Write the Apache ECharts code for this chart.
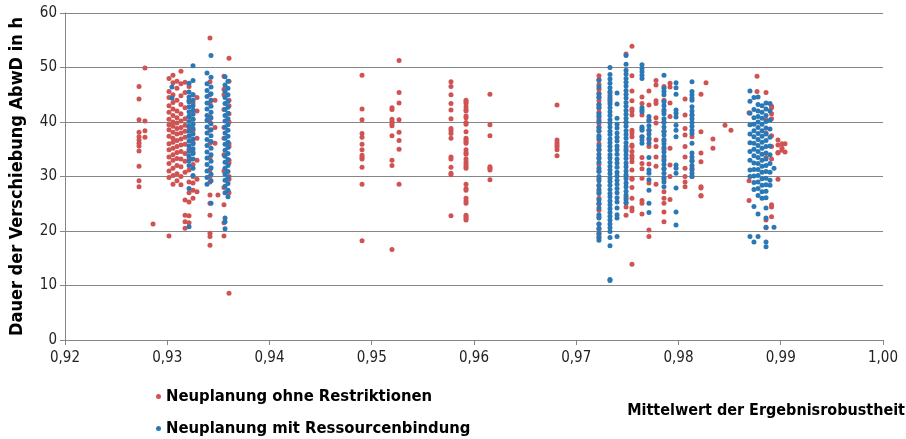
<!DOCTYPE html>
<html><head><meta charset="utf-8">
<script src="https://cdn.jsdelivr.net/npm/echarts@6/dist/echarts.min.js"></script>
<style>html,body{margin:0;padding:0;background:#fff}#c{width:906px;height:439px}</style>
</head><body><div id="c"></div>
<script>
const seriesNames = ['Neuplanung ohne Restriktionen', 'Neuplanung mit Ressourcenbindung'];
const xAxisTitle = 'Mittelwert der Ergebnisrobustheit';
const yAxisTitle = 'Dauer der Verschiebung AbwD in h';
const xTicks = [0.92, 0.93, 0.94, 0.95, 0.96, 0.97, 0.98, 0.99, 1.00];
const yTicks = [0, 10, 20, 30, 40, 50, 60];

// Red series: columns of [x, [y values]]
const redA = [
  [0.92724, [46.5, 44.2, 40.4, 38.1, 37.3, 36.7, 36.1, 35.6, 34.7, 31.9, 29.2, 28.1]],
  [0.92782, [49.9, 40.2, 38.4, 37.2]],
  [0.92861, [21.3]]
];
const redB = [
  [0.93017, [48.0, 45.6, 44.5, 43.0, 41.8, 40.5, 39.5, 38.6, 37.4, 36.0, 34.9, 33.6, 32.4, 31.0, 29.8, 19.1]],
  [0.93056, [48.6, 47.2, 45.0, 43.6, 42.4, 41.2, 40.0, 39.2, 38.1, 37.0, 36.3, 35.2, 34.0, 33.0, 31.5, 30.2, 28.6]],
  [0.93095, [47.5, 46.2, 44.0, 42.0, 40.8, 39.8, 38.8, 37.8, 36.6, 35.5, 34.4, 33.3, 32.0, 30.5, 29.2]],
  [0.93134, [49.3, 47.0, 44.8, 43.2, 41.5, 40.2, 39.0, 38.0, 36.9, 35.8, 34.6, 33.2, 31.8, 30.0, 28.5]],
  [0.93174, [47.3, 45.4, 42.6, 40.6, 39.4, 38.3, 37.2, 35.9, 34.2, 32.8, 30.8, 25.7, 22.9, 21.7, 20.5]],
  [0.93213, [46.5, 44.0, 41.0, 39.0, 37.5, 35.0, 33.5, 31.2, 29.0, 27.0, 25.3, 22.8, 21.5]],
  [0.93252, [45.0, 43.5, 40.5, 38.5, 36.2, 34.5, 32.2, 30.0, 28.8, 27.5, 26.0]],
  [0.93291, [44.5, 42.0, 37.0, 33.0, 29.5, 27.2]],
  [0.93418, [55.4, 47.4, 45.0, 43.4, 41.0, 40.0, 38.5, 36.1, 33.5, 31.2, 30.0, 29.0, 26.6, 25.1, 22.9, 19.6, 19.0, 17.4]],
  [0.93467, [44.0, 39.0, 36.1]],
  [0.93496, [26.6]],
  [0.93555, [48.4, 46.0, 45.0, 42.3, 39.0, 37.0, 34.0, 31.0, 28.0, 24.8, 21.5, 19.1]],
  [0.93604, [51.7, 47.5, 44.0, 43.0, 41.5, 40.0, 36.0, 35.5, 33.0, 32.5, 30.0, 29.5, 27.0, 8.6]]
];
const redC = [
  [0.94905, [48.6, 42.4, 40.4, 37.9, 37.2, 35.9, 34.9, 33.9, 33.5, 33.2, 31.7, 28.6, 18.2]],
  [0.95198, [42.6, 42.3, 40.5, 40.1, 39.7, 39.3, 37.5, 33.0, 32.0, 16.6]],
  [0.95267, [51.3, 45.4, 43.5, 40.4, 38.1, 36.6, 35.0, 28.6]],
  [0.95775, [47.4, 46.5, 45.0, 43.4, 42.2, 40.6, 38.8, 38.4, 37.9, 37.0, 33.6, 33.2, 31.7, 30.6, 30.3, 22.8]],
  [0.95922, [44.0, 43.7, 43.4, 42.8, 42.3, 42.0, 41.1, 40.8, 39.9, 39.6, 38.2, 37.0, 36.7, 36.4, 36.1, 34.9, 34.4, 34.1, 33.2, 32.7, 32.3, 31.9, 31.5, 28.6, 27.8, 27.5, 26.0, 25.5, 25.1, 22.9, 22.6, 22.3, 22.0]],
  [0.96156, [45.1, 39.5, 37.5, 31.8, 31.5, 31.2, 29.4]],
  [0.96812, [43.1, 36.7, 36.2, 35.8, 35.4, 34.9, 33.8]]
];
const redD = [
  [0.97222, [48.5, 47.8, 46.9, 46.0, 45.3, 44.6, 43.9, 43.2, 42.5, 41.8, 41.1, 40.4, 39.7, 39.0, 38.3, 37.2, 36.0, 34.8, 33.5, 32.2, 31.0, 29.6, 28.4, 27.2, 26.0, 24.9, 23.8, 22.6, 21.3, 20.3, 19.4, 18.9]],
  [0.97330, [45.3, 44.4, 43.7]],
  [0.97487, [52.5, 40.0, 35.0, 30.0, 26.2, 25.2, 24.4, 22.9]],
  [0.97545, [53.9, 48.5, 45.7, 43.9, 42.4, 42.0, 41.3, 38.5, 38.0, 37.3, 35.8, 35.5, 34.6, 33.8, 33.4, 32.7, 31.2, 29.7, 29.5, 28.0, 26.0, 24.2, 23.7, 13.9]],
  [0.97643, [44.6, 43.4, 41.3, 37.3, 33.5, 32.4, 31.4, 29.7, 25.6, 25.1, 23.1]],
  [0.97711, [45.7, 43.1, 40.4, 38.5, 36.7, 35.5, 32.3, 28.8, 20.2, 19.0]],
  [0.97780, [47.6, 46.8, 43.9, 43.4, 40.8, 39.8, 36.7, 35.5, 33.6, 31.9, 28.6]],
  [0.97858, [46.5, 44.0, 42.0, 40.0, 38.2, 36.5, 35.0, 33.2, 31.4, 29.5, 27.2, 26.0, 25.1, 23.5, 21.7]],
  [0.97917, [47.1, 46.4, 43.5, 41.0, 35.2, 32.1, 30.0, 25.8]],
  [0.98064, [44.2, 41.3, 38.8, 37.6, 35.5, 33.6, 31.5, 30.0, 29.0, 28.1]],
  [0.98132, [41.3, 37.3, 33.0, 31.5, 30.0]],
  [0.98220, [45.1, 38.2, 34.3, 32.7, 28.1, 27.9, 26.5, 26.4]],
  [0.98269, [47.2]],
  [0.98337, [36.9, 35.2]],
  [0.98455, [39.4]],
  [0.98513, [38.5]]
];
const redE = [
  [0.98690, [41.7, 29.2, 25.6]],
  [0.98768, [48.4, 45.6]],
  [0.98856, [45.4, 40.4, 38.0, 33.5, 22.0, 20.6]],
  [0.98910, [42.9, 42.6, 41.5, 40.6, 37.5, 35.5, 33.2, 24.8, 24.4, 22.6]],
  [0.98973, [36.7, 35.8, 34.4, 34.3, 29.5]],
  [0.99012, [35.2, 36.0, 34.8]],
  [0.99042, [36.0, 34.5]]
];

// Blue series
const blueA = [
  [0.93046, [46.4, 44.4]],
  [0.93213, [47.1, 45.5, 44.6, 43.7, 42.8, 41.9, 41.0, 40.1, 39.2, 38.3, 37.4, 36.5, 35.6, 34.7, 33.8, 32.9, 32.0, 27.8, 20.8]],
  [0.93252, [50.3, 47.6, 45.0, 44.0, 43.0, 42.2, 41.4, 40.5, 39.6, 38.8, 37.8, 36.9, 36.0, 35.1, 34.2, 33.2, 31.5, 30.2]],
  [0.93389, [49.0, 47.0, 45.8, 44.7, 43.5, 42.4, 41.2, 40.3, 39.1, 38.0, 36.8, 35.7, 34.5, 33.4, 32.2, 31.0, 29.8, 28.6]],
  [0.93428, [52.2, 48.2, 46.4, 45.2, 44.0, 42.9, 41.8, 40.8, 39.7, 38.6, 37.5, 36.4, 35.2, 34.0, 32.8, 31.6, 30.4, 29.2, 25.1]],
  [0.93565, [48.3, 46.8, 45.6, 44.5, 43.4, 42.3, 41.2, 40.2, 39.1, 38.0, 37.0, 35.9, 34.8, 33.7, 32.6, 31.5, 30.4, 29.3, 28.2, 27.0, 22.4, 21.7, 20.4]],
  [0.93594, [47.5, 46.2, 45.0, 43.8, 42.7, 41.6, 40.6, 39.5, 38.5, 37.4, 36.3, 35.3, 34.2, 33.1, 32.0, 30.9, 29.8, 28.7, 27.5, 26.3]]
];
const blueB = [
  [0.97222, [47.6, 46.4, 45.1, 44.5, 43.2, 42.7, 41.5, 40.9, 40.1, 39.0, 38.4, 37.5, 36.8, 35.6, 35.0, 34.1, 33.3, 32.6, 31.5, 30.9, 30.0, 29.2, 28.3, 27.6, 26.9, 25.7, 25.1, 24.2, 23.0, 22.4, 21.3, 20.5, 19.6, 18.8, 18.3]],
  [0.97330, [50.0, 48.7, 47.9, 47.1, 46.3, 45.6, 44.8, 44.1, 43.3, 42.6, 41.9, 41.2, 40.4, 39.8, 39.1, 38.3, 37.7, 36.9, 36.2, 35.5, 34.8, 34.0, 33.4, 32.6, 31.9, 31.2, 30.5, 29.7, 29.1, 28.4, 27.6, 26.9, 26.3, 25.5, 24.8, 24.1, 23.4, 22.7, 22.0, 21.3, 20.6, 19.9, 18.8, 17.3, 11.1, 10.9]],
  [0.97399, [45.3, 43.3, 40.7, 39.6, 38.9, 38.0, 37.2, 36.5, 35.6, 34.9, 34.1, 33.2, 32.5, 31.7, 30.8, 30.1, 29.3, 28.6, 27.8, 27.0, 26.1, 25.3, 24.2, 23.0, 22.4, 19.0]],
  [0.97487, [52.2, 50.6, 49.5, 48.8, 48.0, 47.3, 46.6, 45.8, 45.1, 44.4, 43.6, 42.9, 42.1, 41.4, 40.7, 39.9, 39.2, 38.4, 37.7, 37.0, 36.2, 35.5, 34.7, 34.0, 33.3, 32.5, 31.8, 31.0, 30.3, 29.6, 28.8, 28.1, 27.3, 26.6, 25.8, 25.2]],
  [0.97643, [50.5, 49.8, 49.2, 48.6, 48.0, 42.6, 42.2, 41.9, 39.1, 38.8, 38.5, 37.3, 36.7, 36.1]],
  [0.97711, [41.0, 40.2, 39.3, 38.5, 37.8, 37.0, 36.1, 33.5, 31.2, 30.6, 29.4, 27.5, 25.1, 23.4]],
  [0.97858, [48.6, 46.2, 45.6, 45.0, 43.7, 43.0, 42.2, 41.5, 40.6, 39.9, 39.1, 38.3, 37.6, 36.8, 36.0, 35.3, 34.5, 33.7, 32.9, 32.2, 31.4, 30.6, 29.8, 29.0, 28.1]],
  [0.97976, [47.2, 46.3, 45.1, 42.2, 41.6, 40.9, 39.4, 38.5, 37.3, 32.1, 31.5, 30.6, 27.9, 23.5, 21.1]],
  [0.98132, [47.4, 45.6, 45.0, 44.4, 44.0, 42.8, 42.0, 41.3, 40.6, 39.9, 39.2, 38.5, 37.9, 36.1, 34.3, 33.6, 32.8, 32.0, 31.2, 30.6, 30.0]]
];
const blueC = [
  [0.98699, [45.7, 43.8, 41.6, 39.5, 37.8, 36.2, 34.6, 33.0, 31.2, 30.0, 19.0]],
  [0.98738, [44.5, 42.3, 40.8, 39.6, 38.4, 37.3, 36.1, 35.0, 33.8, 32.5, 31.3, 30.1, 28.9, 27.6, 24.5, 18.0]],
  [0.98778, [44.6, 43.2, 42.0, 41.0, 40.0, 39.0, 37.9, 36.8, 35.7, 34.6, 33.5, 32.4, 31.3, 30.2, 29.0, 27.8, 26.5, 23.1, 19.0]],
  [0.98817, [43.0, 41.8, 40.7, 39.6, 38.4, 37.4, 36.3, 35.2, 34.1, 33.0, 31.9, 30.8, 29.6, 28.4, 27.2, 26.0]],
  [0.98856, [43.5, 42.4, 41.2, 40.1, 38.9, 37.8, 36.6, 35.5, 34.3, 33.2, 32.0, 30.9, 29.7, 28.5, 27.3, 26.1, 24.2, 22.4, 20.7, 18.0, 17.1]],
  [0.98895, [43.4, 42.0, 40.3, 38.7, 37.2, 35.6, 34.0, 32.4, 30.8, 29.3, 28.4]],
  [0.98934, [31.5, 20.7]]
];

function expand(groups) {
  const out = [];
  groups.forEach(cols => cols.forEach(([x, ys]) => ys.forEach(y => out.push([x, y]))));
  return out;
}
const redData = expand([redA, redB, redC, redD, redE]);
const blueData = expand([blueA, blueB, blueC]);

const FONT = "'Liberation Sans Narrow', 'DejaVu Sans Condensed', sans-serif";
const RED = '#D05353';
const BLUE = '#2A79B6';
const AXIS = '#868686';

const chart = echarts.init(document.getElementById('c'), null, { renderer: 'canvas' });
chart.setOption({
  animation: false,
  textStyle: { fontFamily: FONT },
  grid: { left: 65, right: 23, top: 13, bottom: 99, containLabel: false },
  title: {
    text: xAxisTitle, right: 1, top: 403, padding: 0,
    textStyle: { fontFamily: FONT, fontWeight: 'bold', fontSize: 16, color: '#000' }
  },
  legend: {
    orient: 'vertical', left: 156, top: 388, height: 80, padding: 0,
    itemWidth: 5, itemHeight: 5, itemGap: 15,
    icon: 'circle',
    textStyle: { fontFamily: FONT, fontWeight: 'bold', fontSize: 16.5, color: '#000' },
    data: seriesNames
  },
  xAxis: {
    type: 'value', min: xTicks[0], max: xTicks[xTicks.length - 1], interval: 0.01,
    axisLine: { show: true, lineStyle: { color: AXIS, width: 1 } },
    axisTick: { show: true, length: 5, lineStyle: { color: AXIS } },
    splitLine: { show: false },
    axisLabel: { margin: 11, fontSize: 15, color: '#222', fontFamily: FONT,
      formatter: v => v.toFixed(2).replace('.', ',') }
  },
  yAxis: {
    type: 'value', min: yTicks[0], max: yTicks[yTicks.length - 1], interval: 10,
    name: yAxisTitle, nameLocation: 'middle', nameGap: 39,
    nameTextStyle: { fontFamily: FONT, fontWeight: 'bold', fontSize: 18, color: '#000' },
    axisLine: { show: true, lineStyle: { color: AXIS, width: 1 } },
    axisTick: { show: true, length: 5, lineStyle: { color: AXIS } },
    splitLine: { show: true, lineStyle: { color: AXIS, width: 1 } },
    axisLabel: { margin: 8, fontSize: 15, color: '#222', fontFamily: FONT }
  },
  series: [
    { type: 'scatter', name: seriesNames[0], data: redData, symbolSize: 5,
      itemStyle: { color: RED, opacity: 1 } },
    { type: 'scatter', name: seriesNames[1], data: blueData, symbolSize: 5,
      itemStyle: { color: BLUE, opacity: 1 } }
  ]
});
</script>
</body></html>
